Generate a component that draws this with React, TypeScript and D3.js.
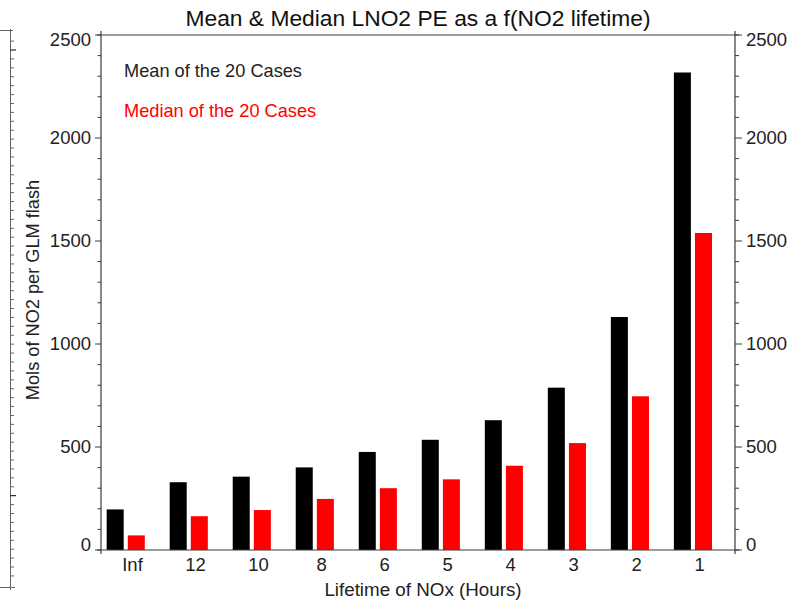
import React, { useEffect, useRef } from "react";
import * as d3 from "d3";

// lifetime categories (hours) and the two series
const lifetimes = ["Inf", "12", "10", "8", "6", "5", "4", "3", "2", "1"];
const meanValues = [197, 329, 356, 401, 476, 535, 630, 788, 1131, 2318];
const medianValues = [71, 164, 194, 248, 300, 343, 409, 519, 746, 1539];
const yTicks = [0, 500, 1000, 1500, 2000, 2500];

const W = 808;
const H = 602;
const FONT = "'Liberation Sans', Arial, Helvetica, sans-serif";

export default function App() {
    const svgRef = useRef<SVGSVGElement>(null);

    useEffect(() => {
        const svg = d3.select(svgRef.current);
        svg.selectAll("*").remove();

        const left = 101, right = 735, top = 35, bottom = 550;
        const axisColor = "#3a3a3a";

        const x = d3.scaleLinear().domain([0.5, 10.56]).range([left, right]);
        const y = d3.scaleLinear().domain([0, 2500]).range([bottom, top]);
        const barW = x(1.27) - x(1);

        svg.attr("font-family", FONT);

        // stray axis fragment along the left edge
        const strip = d3.scaleLinear().domain([0, 50]).range([50, 495.7]);
        const sg = svg.append("g").attr("stroke", "#666").attr("stroke-width", 1);
        sg.append("line").attr("x1", 10.5).attr("x2", 10.5).attr("y1", 29).attr("y2", 590);
        sg.append("line").attr("x1", 0).attr("x2", 13).attr("y1", 30.5).attr("y2", 30.5);
        sg.append("line").attr("x1", 0).attr("x2", 15).attr("y1", 587.5).attr("y2", 587.5);
        sg.selectAll("line.t")
            .data(d3.range(-1, 60))
            .join("line")
            .attr("class", "t")
            .attr("x1", 10.5)
            .attr("x2", d => d % 50 === 0 ? 16 : 14)
            .attr("y1", d => strip(d))
            .attr("y2", d => strip(d))
            .attr("stroke", d => d % 50 === 0 ? "#000" : "#666");

        // bars
        const bars = svg.append("g");
        bars.selectAll("rect.mean")
            .data(meanValues)
            .join("rect")
            .attr("class", "mean")
            .attr("x", (d, i) => x(i + 1 - 0.41))
            .attr("width", barW)
            .attr("y", d => y(d))
            .attr("height", d => y(0) - y(d))
            .attr("fill", "#000");
        bars.selectAll("rect.median")
            .data(medianValues)
            .join("rect")
            .attr("class", "median")
            .attr("x", (d, i) => x(i + 1 - 0.075))
            .attr("width", barW)
            .attr("y", d => y(d))
            .attr("height", d => y(0) - y(d))
            .attr("fill", "#ff0000");

        // frame: left, right, top, bottom lines with small overhangs
        const frame = svg.append("g").attr("stroke", axisColor).attr("stroke-width", 1.2);
        frame.append("line").attr("x1", left).attr("x2", left).attr("y1", top - 4).attr("y2", bottom + 4);
        frame.append("line").attr("x1", right).attr("x2", right).attr("y1", top - 4).attr("y2", bottom + 4);
        frame.append("line").attr("x1", left - 4).attr("x2", right + 4).attr("y1", top).attr("y2", top);
        frame.append("line").attr("x1", left - 4).attr("x2", right + 4).attr("y1", bottom).attr("y2", bottom);

        // y ticks both sides
        const minor = d3.range(0, 2501, 100);
        const ticks = svg.append("g").attr("stroke", axisColor).attr("stroke-width", 1);
        ticks.selectAll("line.l")
            .data(minor)
            .join("line")
            .attr("class", "l")
            .attr("x1", left)
            .attr("x2", d => left - (d % 500 === 0 ? 6 : 3.5))
            .attr("y1", d => y(d))
            .attr("y2", d => y(d));
        ticks.selectAll("line.r")
            .data(minor)
            .join("line")
            .attr("class", "r")
            .attr("x1", right)
            .attr("x2", d => right + (d % 500 === 0 ? 7 : 4))
            .attr("y1", d => y(d))
            .attr("y2", d => y(d));

        const labelShift = (d: number) => d === 2500 ? 5 : d === 0 ? -5 : 0;
        const tl = svg.append("g").attr("font-size", 18.5).attr("fill", "#222");
        tl.selectAll("text.l")
            .data(yTicks)
            .join("text")
            .attr("class", "l")
            .attr("x", left - 10)
            .attr("y", d => y(d) + labelShift(d))
            .attr("dy", "0.35em")
            .attr("text-anchor", "end")
            .text(d => d);
        tl.selectAll("text.r")
            .data(yTicks)
            .join("text")
            .attr("class", "r")
            .attr("x", right + 11)
            .attr("y", d => y(d) + labelShift(d))
            .attr("dy", "0.35em")
            .attr("text-anchor", "start")
            .text(d => d);

        // x tick labels
        tl.selectAll("text.x")
            .data(lifetimes)
            .join("text")
            .attr("class", "x")
            .attr("x", (d, i) => x(i + 1))
            .attr("y", 571)
            .attr("text-anchor", "middle")
            .text(d => d);

        // title and axis labels
        svg.append("text")
            .attr("x", (left + right) / 2)
            .attr("y", 26)
            .attr("text-anchor", "middle")
            .attr("font-size", 22.8)
            .attr("fill", "#111")
            .text("Mean & Median LNO2 PE as a f(NO2 lifetime)");
        svg.append("text")
            .attr("x", 423)
            .attr("y", 596)
            .attr("text-anchor", "middle")
            .attr("font-size", 18.8)
            .attr("fill", "#222")
            .text("Lifetime of NOx (Hours)");
        svg.append("text")
            .attr("transform", "translate(39,290) rotate(-90)")
            .attr("text-anchor", "middle")
            .attr("font-size", 18.2)
            .attr("fill", "#222")
            .text("Mols of NO2 per GLM flash");

        // legend text
        svg.append("text")
            .attr("x", 124)
            .attr("y", 77)
            .attr("font-size", 18.2)
            .attr("fill", "#222")
            .text("Mean of the 20 Cases");
        svg.append("text")
            .attr("x", 124)
            .attr("y", 117)
            .attr("font-size", 18.2)
            .attr("fill", "#ff0000")
            .text("Median of the 20 Cases");
    }, []);

    return (
        <svg
            ref={svgRef}
            width={W}
            height={H}
            style={{ position: "absolute", left: 0, top: 0, background: "#fff" }}
        />
    );
}
